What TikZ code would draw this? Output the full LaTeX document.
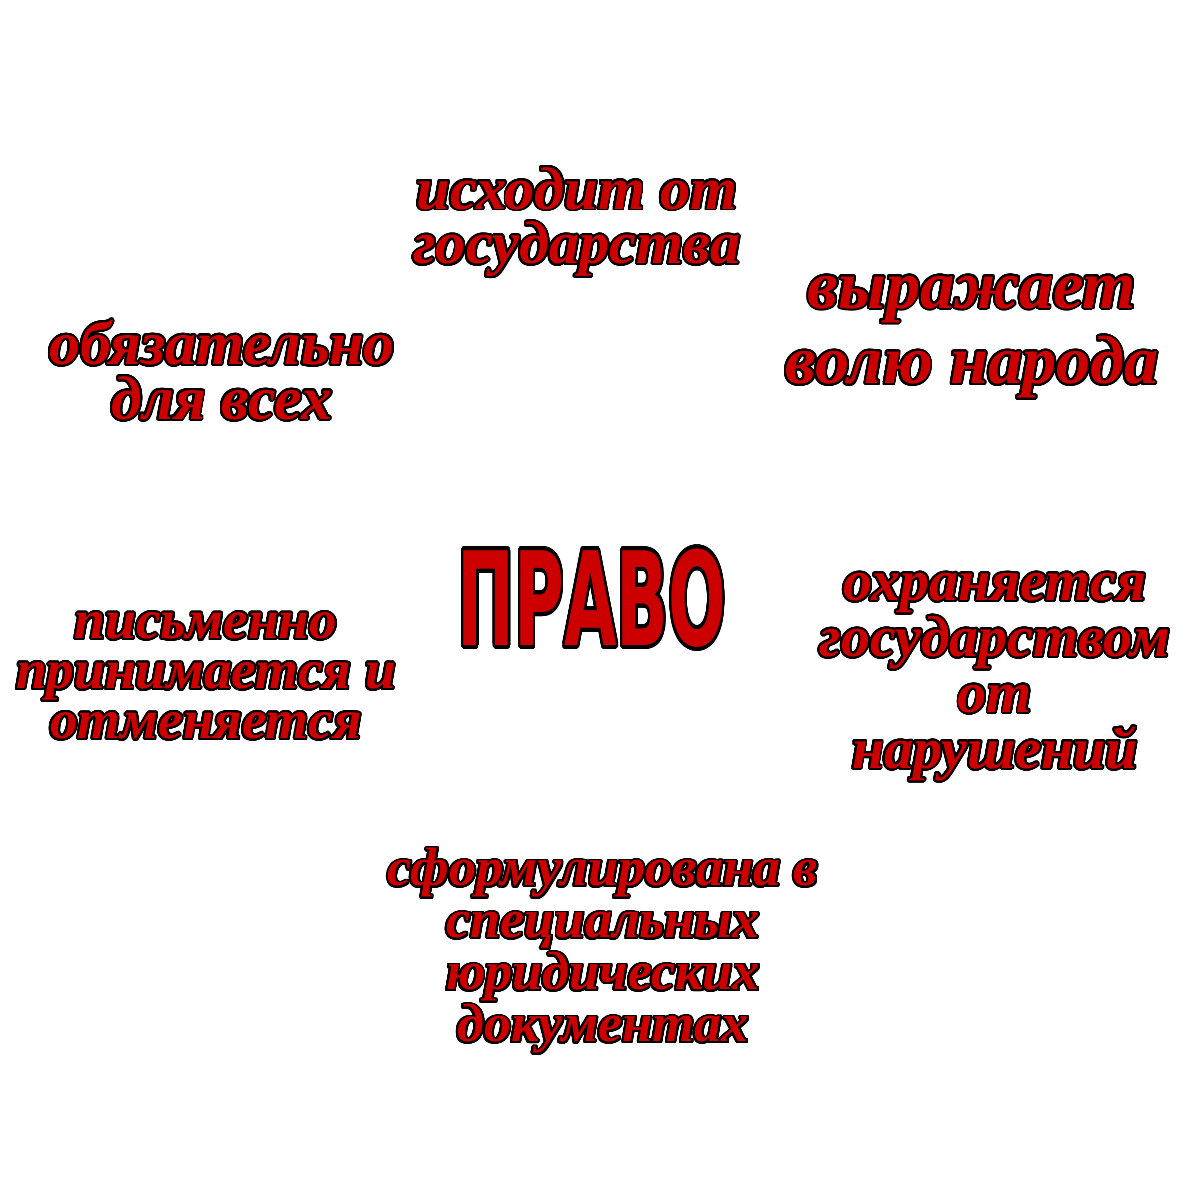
\documentclass[tikz,border=0pt]{standalone}
\usepackage{fontspec}
\usepackage{contour}
\usepackage{graphicx}
\setmainfont{Liberation Serif}
\newfontfamily\labfont{Liberation Serif}
\newfontfamily\titlefont{DejaVu Sans Condensed}
\definecolor{pfred}{HTML}{CC0000}
\contournumber{32}
\newcommand{\ct}[1]{\contour{black}{#1}}
\tikzset{
  lab/.style={align=center, text=pfred, inner sep=0pt},
}
\begin{document}
\begin{tikzpicture}[x=1cm,y=1cm]
\fill[white] (0,0) rectangle (12,12);
\useasboundingbox (0,0) rectangle (12,12);
\contourlength{0.55pt}
\node[lab, font={\labfont\bfseries\itshape\fontsize{17.2}{15.6}\selectfont}] (a) at (5.77,9.77) {\ct{исходит от}\\\ct{государства}};
\node[lab, font={\labfont\bfseries\itshape\fontsize{19.5}{21.5}\selectfont}] (b) at (9.72,8.62) {\ct{выражает}\\\ct{волю народа}};
\node[lab, font={\labfont\bfseries\itshape\fontsize{17.6}{15.6}\selectfont}] (c) at (2.22,8.29) {\ct{обязательно}\\\ct{для всех}};
\node[lab, font={\labfont\bfseries\itshape\fontsize{15.7}{14.2}\selectfont}] (e) at (2.06,5.23) {\ct{письменно}\\\ct{принимается и}\\\ct{отменяется}};
\node[lab, font={\labfont\bfseries\itshape\fontsize{16.5}{15.9}\selectfont}] (f) at (9.95,5.22) {\ct{охраняется}\\\ct{государством}\\\ct{от}\\\ct{нарушений}};
\node[lab, font={\labfont\bfseries\itshape\fontsize{15.4}{14.8}\selectfont}] (g) at (6.03,2.48) {\ct{сформулирована в}\\\ct{специальных}\\\ct{юридических}\\\ct{документах}};
\contourlength{1.1pt}
\node[lab, font={\titlefont\bfseries\fontsize{37}{40}\selectfont}] (d) at (5.92,6.0) {\scalebox{0.58}[1]{\ct{ПРАВО}}};
\end{tikzpicture}
\end{document}
